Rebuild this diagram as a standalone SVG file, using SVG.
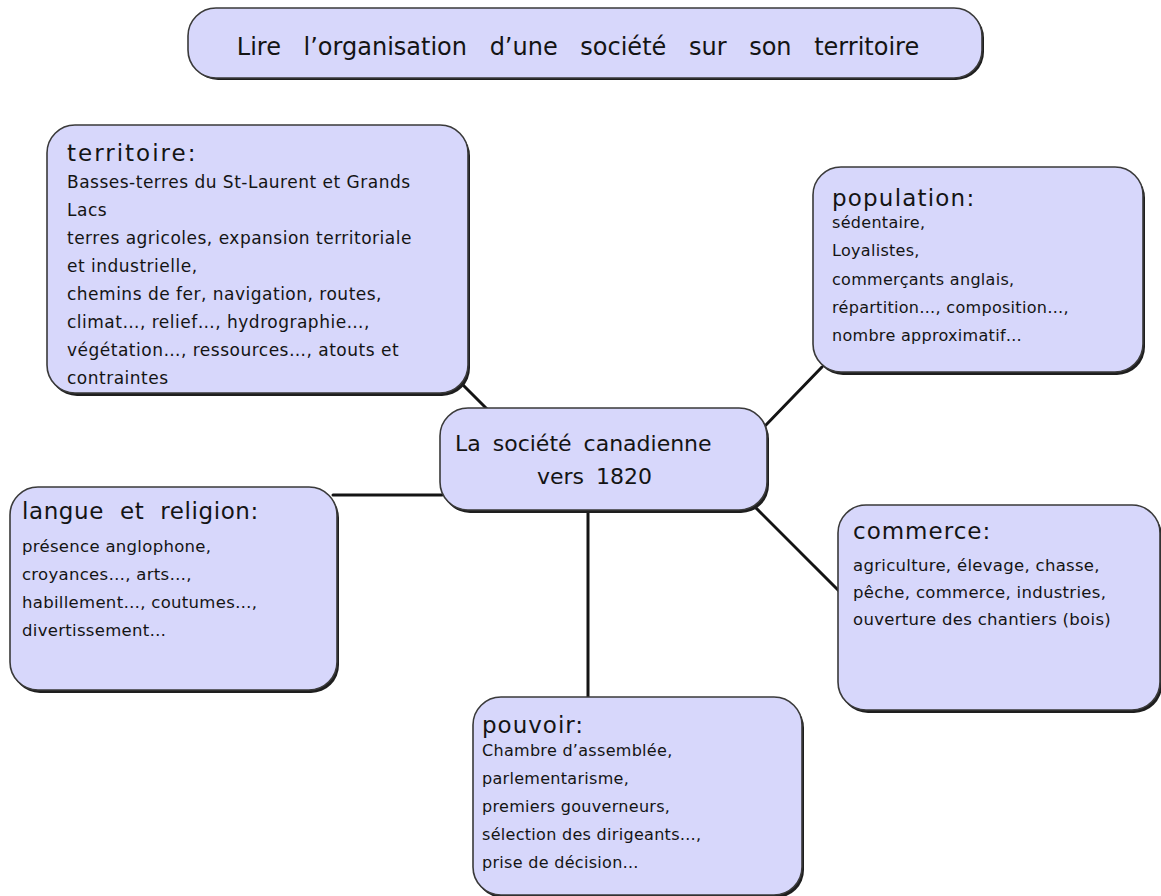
<svg xmlns="http://www.w3.org/2000/svg" width="1161" height="896" viewBox="0 0 1161 896">
<style>
.box{fill:#d7d7fb;stroke:#3a3a3a;stroke-width:1.6}
.sh{fill:#1e1e1e}
.t{font-family:"DejaVu Sans",sans-serif;fill:#141414}
.h{font-size:23px}
.con{stroke:#141414;stroke-width:3;fill:none;stroke-linecap:round}
</style>
<rect width="1161" height="896" fill="#ffffff"/>
<g id="connectors">
<line class="con" x1="460" y1="382" x2="487" y2="409"/>
<line class="con" x1="822" y1="367" x2="763" y2="428"/>
<line class="con" x1="753" y1="505" x2="839" y2="591"/>
<line class="con" x1="333" y1="495" x2="442" y2="495"/>
<line class="con" x1="588" y1="510" x2="588" y2="698"/>
</g>
<g id="title">
<rect class="sh" x="190" y="10" width="794" height="70" rx="28"/>
<rect class="box" x="188" y="8" width="794" height="70" rx="28"/>
<text class="t" x="578" y="55" font-size="24" text-anchor="middle" word-spacing="15">Lire l’organisation d’une société sur son territoire</text>
</g>
<g id="territoire">
<rect class="sh" x="49" y="128" width="421" height="268" rx="28"/>
<rect class="box" x="47" y="125" width="421" height="268" rx="28"/>
<text class="t h" x="67" y="161" letter-spacing="2">territoire:</text>
<g class="t" font-size="17" letter-spacing="0.5">
<text x="67" y="188">Basses-terres du St-Laurent et Grands</text>
<text x="67" y="216">Lacs</text>
<text x="67" y="244">terres agricoles, expansion territoriale</text>
<text x="67" y="272">et industrielle,</text>
<text x="67" y="300">chemins de fer, navigation, routes,</text>
<text x="67" y="328">climat…, relief…, hydrographie…,</text>
<text x="67" y="356">végétation…, ressources…, atouts et</text>
<text x="67" y="384">contraintes</text>
</g>
</g>
<g id="population">
<rect class="sh" x="815" y="170" width="330" height="205" rx="28"/>
<rect class="box" x="813" y="167" width="330" height="205" rx="28"/>
<text class="t h" x="832" y="206" letter-spacing="1.2">population:</text>
<g class="t" font-size="16" letter-spacing="0.3">
<text x="832" y="228">sédentaire,</text>
<text x="832" y="256">Loyalistes,</text>
<text x="832" y="285">commerçants anglais,</text>
<text x="832" y="313">répartition…, composition…,</text>
<text x="832" y="341">nombre approximatif…</text>
</g>
</g>
<g id="centre">
<rect class="sh" x="442" y="411" width="327" height="102" rx="28"/>
<rect class="box" x="440" y="408" width="327" height="102" rx="28"/>
<text class="t" x="455" y="451" font-size="22" word-spacing="5">La société canadienne</text>
<text class="t" x="537" y="484" font-size="22" word-spacing="5">vers 1820</text>
</g>
<g id="langue">
<rect class="sh" x="12" y="490" width="327" height="203" rx="28"/>
<rect class="box" x="10" y="487" width="327" height="203" rx="28"/>
<text class="t h" x="22" y="519" word-spacing="8" letter-spacing="0.6">langue et religion:</text>
<g class="t" font-size="16.5" letter-spacing="0.3">
<text x="22" y="552">présence anglophone,</text>
<text x="22" y="580">croyances…, arts…,</text>
<text x="22" y="608">habillement…, coutumes…,</text>
<text x="22" y="636">divertissement…</text>
</g>
</g>
<g id="commerce">
<rect class="sh" x="840" y="508" width="322" height="205" rx="28"/>
<rect class="box" x="838" y="505" width="322" height="205" rx="28"/>
<text class="t h" x="853" y="539" letter-spacing="1">commerce:</text>
<g class="t" font-size="16.5" letter-spacing="0.3">
<text x="853" y="571">agriculture, élevage, chasse,</text>
<text x="853" y="598">pêche, commerce, industries,</text>
<text x="853" y="625">ouverture des chantiers (bois)</text>
</g>
</g>
<g id="pouvoir">
<rect class="sh" x="475" y="700" width="329" height="198" rx="28"/>
<rect class="box" x="473" y="697" width="329" height="198" rx="28"/>
<text class="t h" x="482" y="733" letter-spacing="1">pouvoir:</text>
<g class="t" font-size="16" letter-spacing="0.3">
<text x="482" y="756">Chambre d’assemblée,</text>
<text x="482" y="784">parlementarisme,</text>
<text x="482" y="812">premiers gouverneurs,</text>
<text x="482" y="840">sélection des dirigeants…,</text>
<text x="482" y="868">prise de décision…</text>
</g>
</g>
</svg>
